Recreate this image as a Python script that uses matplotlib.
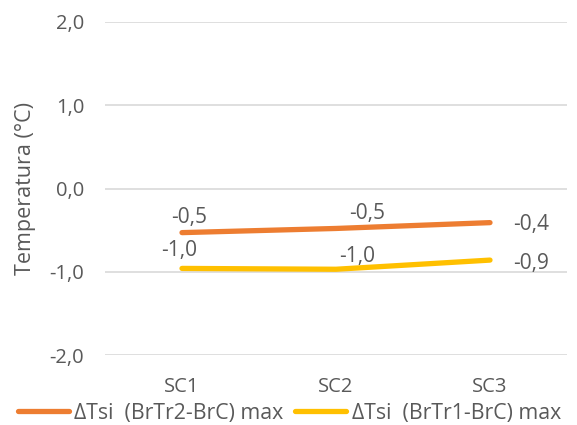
import matplotlib
matplotlib.use("Agg")
import matplotlib.pyplot as plt
from matplotlib.ticker import FuncFormatter

categories = ["SC1", "SC2", "SC3"]
series_names = ["ΔTsi  (BrTr2-BrC) max", "ΔTsi  (BrTr1-BrC) max"]
tr2_values = [-0.53, -0.48, -0.41]
tr1_values = [-0.96, -0.97, -0.86]
yticks = [-2.0, -1.0, 0.0, 1.0, 2.0]

colors = ["#ED7D31", "#FFC000"]
text_color = "#595959"

# label placement per point: (dx px, dy px, ha, va)
label_offsets = [
    [(7, 10, "center", "baseline"), (31, 9, "center", "baseline"), (23, -2, "left", "center")],
    [(-3, 12, "center", "baseline"), (21, 7, "center", "baseline"), (23, -3, "left", "center")],
]

plt.rcParams["font.family"] = ["Open Sans", "DejaVu Sans"]


def comma(v):
    return f"{v:.1f}".replace(".", ",")


fig = plt.figure(figsize=(5.77, 4.25), dpi=100)
ax = fig.add_axes([105 / 577, 1 - 355 / 425, 462 / 577, (355 - 22) / 425])

x = list(range(len(categories)))
lines = []
for vals, col, name, offs in zip([tr2_values, tr1_values], colors, series_names, label_offsets):
    ln, = ax.plot(x, vals, color=col, lw=3.8, solid_capstyle="round", label=name)
    lines.append(ln)
    for i, v in enumerate(vals):
        dx, dy, ha, va = offs[i]
        ax.annotate(comma(v), (i, v), xytext=(dx, dy), textcoords="offset pixels",
                    ha=ha, va=va, fontsize=15, color=text_color)

ax.set_xlim(-0.5, len(categories) - 0.5)
ax.set_ylim(-2.0, 2.0)
ax.set_yticks(yticks)
ax.yaxis.set_major_formatter(FuncFormatter(lambda v, p: comma(v)))
ax.set_xticks(x)
ax.set_xticklabels(categories)
ax.grid(axis="y", color="#D9D9D9", lw=1.2)
ax.set_axisbelow(True)
for s in ax.spines.values():
    s.set_visible(False)
ax.tick_params(length=0, labelsize=14.5, colors=text_color)
ax.tick_params(axis="y", pad=15)
ax.tick_params(axis="x", pad=16)
ax.set_ylabel("Temperatura (°C)", fontsize=15.5, color=text_color, labelpad=10)

fig.legend(handles=lines, loc="center left", bbox_to_anchor=(18 / 577, 1 - 413 / 425),
           ncol=2, frameon=False, fontsize=15.3, labelcolor=text_color,
           handlelength=2.4, handletextpad=0.25, columnspacing=0.55,
           borderaxespad=0, borderpad=0)

fig.savefig("out.png", dpi=100)
